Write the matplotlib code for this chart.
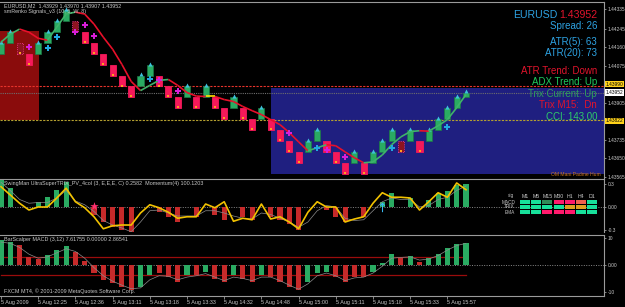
import matplotlib
matplotlib.use("Agg")
import matplotlib.pyplot as plt
import matplotlib.transforms as mtransforms
from matplotlib.collections import LineCollection
from matplotlib.patches import Rectangle

W, H = 625, 307
plt.rcParams["font.family"] = ["Liberation Sans", "DejaVu Sans"]

# ---- data (renko bricks, 5 pips each) ----
brick_open = [1.44130, 1.44180, 1.44180, 1.44130, 1.44130, 1.44180, 1.44230, 1.44280,
              1.44280, 1.44230, 1.44180, 1.44130, 1.44080, 1.44030, 1.43980, 1.43980,
              1.44030, 1.44030, 1.43980, 1.43930, 1.43930, 1.43930, 1.43930, 1.43930,
              1.43880, 1.43880, 1.43880, 1.43830, 1.43830, 1.43830, 1.43780, 1.43730,
              1.43680, 1.43680, 1.43730, 1.43730, 1.43680, 1.43630, 1.43630, 1.43630,
              1.43630, 1.43680, 1.43730, 1.43730, 1.43730, 1.43730, 1.43730, 1.43780,
              1.43830, 1.43880, 1.43930]
brick_close = [1.44180, 1.44230, 1.44130, 1.44080, 1.44180, 1.44230, 1.44280, 1.44330,
               1.44230, 1.44180, 1.44130, 1.44080, 1.44030, 1.43980, 1.43930, 1.44030,
               1.44080, 1.43980, 1.43930, 1.43880, 1.43980, 1.43880, 1.43980, 1.43880,
               1.43830, 1.43930, 1.43830, 1.43780, 1.43880, 1.43780, 1.43730, 1.43680,
               1.43630, 1.43730, 1.43780, 1.43680, 1.43630, 1.43580, 1.43680, 1.43580,
               1.43680, 1.43730, 1.43780, 1.43680, 1.43780, 1.43680, 1.43780, 1.43830,
               1.43880, 1.43930, 1.43952]
dim_bricks = [2, 8, 43]

ma_values = [1.44183, 1.44220, 1.44243, 1.44229, 1.44201, 1.44192, 1.44252, 1.44312,
             1.44321, 1.44312, 1.44266, 1.44206, 1.44151, 1.44081, 1.44003, 1.43961,
             1.43985, 1.44008, 1.44012, 1.43985, 1.43952, 1.43936, 1.43934, 1.43934,
             1.43920, 1.43911, 1.43888, 1.43869, 1.43851, 1.43828, 1.43805, 1.43768,
             1.43726, 1.43685, 1.43699, 1.43713, 1.43708, 1.43680, 1.43653, 1.43630,
             1.43634, 1.43666, 1.43713, 1.43749, 1.43773, 1.43777, 1.43775, 1.43800,
             1.43828, 1.43883, 1.43943]

buy_idx = [5, 6, 16, 34, 42, 48]
buy_price = [1.44155, 1.44206, 1.44012, 1.43699, 1.43699, 1.43796]
sell_idx = [3, 8, 9, 10, 17, 19, 31, 35, 37]
sell_price = [1.44160, 1.44229, 1.44261, 1.44211, 1.44008, 1.43957, 1.43768, 1.43690, 1.43657]

red_zone = (-0.2, 4.1, 1.43828, 1.44235)     # x0, x1, low, high
blue_zone = (29.0, 70.0, 1.43579, 1.43971)
level_red = 1.43982
level_bid = 1.43952
level_olive = 1.43826

price_ticks = [1.44335, 1.44245, 1.44160, 1.44075, 1.43905, 1.43735, 1.43650, 1.43565]
marked_prices = [(1.43990, "1.43990", "#ffd21a"), (1.43952, "1.43952", "#ffffff"),
                 (1.43822, "1.43822", "#ffd21a")]

trix_hist = [0.36, 0.25, 0.0, 0.0, 0.07, 0.13, 0.23, 0.33, 0.0, 0.0, -0.11, -0.20,
             -0.27, -0.30, -0.35, 0.0, 0.0, -0.07, -0.13, -0.20, 0.0, -0.13, 0.0, -0.10,
             -0.17, 0.0, -0.13, -0.17, 0.0, -0.13, -0.17, -0.23, -0.30, 0.0, 0.0, -0.04,
             -0.13, -0.20, 0.0, -0.13, 0.0, 0.07, 0.18, 0.0, 0.12, 0.0, 0.09, 0.18,
             0.21, 0.29, 0.30]
momentum = [0.27, 0.16, 0.05, -0.04, 0.0, 0.0, 0.12, 0.25, 0.07, -0.01, -0.13, -0.29,
            -0.25, -0.24, -0.24, -0.08, 0.03, -0.01, -0.07, -0.15, -0.13, -0.13, 0.04, -0.01,
            0.07, -0.19, -0.15, -0.17, 0.04, -0.16, -0.13, -0.20, -0.29, -0.07, 0.07, 0.0,
            0.0, -0.20, -0.16, -0.13, 0.05, 0.19, 0.13, 0.13, 0.12, -0.04, 0.07, 0.19,
            0.13, 0.32, 0.23]
momentum_sig = [0.33, 0.22, 0.10, 0.05, 0.06, 0.06, 0.12, 0.22, 0.08, 0.03, -0.06, -0.18,
                -0.24, -0.28, -0.33, -0.20, -0.05, -0.04, -0.08, -0.12, -0.12, -0.12, -0.05, -0.05,
                -0.08, -0.12, -0.15, -0.16, -0.08, -0.10, -0.15, -0.20, -0.27, -0.20, -0.05, 0.02,
                0.0, -0.15, -0.18, -0.17, -0.05, 0.07, 0.12, 0.10, 0.10, 0.0, 0.02, 0.10,
                0.13, 0.22, 0.28]
trix_star_idx = 10
trix_arrow_idx = 41

macd_hist = [9.3, 8.5, 7.4, 3.0, 2.2, 3.7, 5.6, 7.0, 4.8, 1.5, -3.0, -5.6,
             -6.7, -8.1, -9.3, -8.1, -3.7, -3.0, -4.4, -6.3, -3.7, -3.7, -2.6, -5.2,
             -6.3, -3.7, -5.2, -6.3, -3.7, -4.4, -6.3, -8.1, -9.3, -6.3, -3.0, -2.6,
             -4.4, -6.3, -4.4, -4.4, -2.6, 0.7, 4.0, 2.6, 3.3, 1.1, 2.6, 4.0,
             6.3, 7.8, 8.1]
macd_up = [1, 1, 0, 0, 0, 1, 1, 1, 0, 0, 0, 0,
           0, 0, 0, 1, 1, 0, 0, 0, 1, 0, 1, 0,
           0, 1, 0, 0, 1, 0, 0, 0, 0, 1, 1, 1,
           0, 0, 0, 0, 1, 1, 1, 0, 1, 0, 1, 1,
           1, 1, 1]
macd_sig = [8.5, 8.0, 6.5, 4.0, 2.5, 3.0, 4.5, 6.0, 5.0, 2.5, -1.0, -4.0,
            -6.0, -7.5, -8.8, -8.5, -5.5, -4.0, -4.2, -5.5, -4.5, -4.0, -3.2, -4.5,
            -5.8, -4.5, -5.0, -5.8, -4.5, -4.5, -5.8, -7.5, -9.0, -7.0, -4.0, -3.0,
            -4.0, -5.8, -4.8, -4.5, -3.0, -0.5, 2.5, 2.8, 3.0, 1.8, 2.2, 3.5,
            5.5, 7.2, 8.0]
macd_levels = [3.0, -3.7]

time_tick_idx = [0, 4, 8, 12, 16, 20, 24, 28, 32, 36, 40, 44, 48]
time_labels = ["5 Aug 2009", "5 Aug 12:25", "5 Aug 12:36", "5 Aug 13:11", "5 Aug 13:18",
               "5 Aug 13:33", "5 Aug 14:32", "5 Aug 14:48", "5 Aug 15:00", "5 Aug 15:11",
               "5 Aug 15:18", "5 Aug 15:33", "5 Aug 15:57"]

info_lines = [("Spread: 26", "#2ea3e3"), ("ATR(5): 63", "#2ea3e3"), ("ATR(20): 73", "#2ea3e3"),
              ("ATR Trend: Down", "#e0142c"), ("ADX Trend: Up", "#1fc85c"),
              ("Trix Current: Up", "#2e9e5c"), ("Trix M15:  Dn", "#e0142c"),
              ("CCI: 143.00", "#2ecc6a")]
info_y = [26, 42, 53, 71, 82, 94, 105, 117]

table_cols = ["M1", "M5", "M15", "M30", "H1", "H4", "D1"]
table_rows = ["MACD", "TRIX", "EMA"]
table_state = [["up", "up", "flat", "dn", "dn", "dn2", "up"],
               ["up", "up", "up", "up", "or", "or", "up"],
               ["up", "up", "dn", "dn", "dn", "up", "up"]]
state_color = {"up": "#17e09a", "flat": "#2e8b57", "dn": "#ff1a6c", "dn2": "#f0604e", "or": "#e0a020"}

GREEN = "#2aab62"
PINK = "#f5195a"
TXT = "#c8c8c8"
SMALL = 3.9
AXIS_FS = 3.5

n = len(brick_open)
idx = list(range(n))
XLIM = (-1 / 9.3, 603 / 9.3)


def px_axes(fig, x0, y0, x1, y1):
    return fig.add_axes([x0 / W, 1 - y1 / H, (x1 - x0) / W, (y1 - y0) / H])


def ptext(fig, x, y, s, **kw):
    kw.setdefault("va", "center")
    fig.text(x / W, 1 - y / H, s, **kw)


def style_panel(ax):
    ax.set_facecolor("black")
    ax.set_xlim(*XLIM)
    for side in ("left", "bottom"):
        ax.spines[side].set_visible(False)
    for side in ("top", "right"):
        ax.spines[side].set_color("#9a9a9a")
        ax.spines[side].set_linewidth(0.8)
    ax.yaxis.tick_right()
    ax.tick_params(axis="y", colors="#9a9a9a", labelcolor=TXT, labelsize=AXIS_FS,
                   length=1.5, width=0.6, pad=1)
    ax.tick_params(axis="x", bottom=False, labelbottom=False)


fig = plt.figure(figsize=(W / 100, H / 100), dpi=100, facecolor="black")

# ---- main price panel ----
ax = px_axes(fig, 0, 2, 604, 178)
style_panel(ax)
ax.set_ylim(1.435603, 1.443673)

ax.add_patch(Rectangle((red_zone[0], red_zone[2]), red_zone[1] - red_zone[0],
                       red_zone[3] - red_zone[2], fc="#8a0c0c", ec="none", zorder=0))
ax.add_patch(Rectangle((blue_zone[0], blue_zone[2]), blue_zone[1] - blue_zone[0],
                       blue_zone[3] - blue_zone[2], fc="#1f1f80", ec="none", zorder=0))
ax.axhline(level_red, color="#e8342c", lw=0.8, ls=(0, (2, 1.2)), zorder=1)
ax.axhline(level_bid, color="#6e6e6e", lw=0.8, ls=(0, (1, 1)), zorder=1)
ax.axhline(level_olive, color="#b4a030", lw=0.8, ls=(0, (2, 1.2)), zorder=1)

for i in idx:
    o, c = brick_open[i], brick_close[i]
    lo, hi = min(o, c), max(o, c)
    if c > o:
        ax.bar(i, hi - lo, bottom=lo, width=0.65, color=GREEN, edgecolor="#1c7a45", lw=0.5, zorder=3)
        ax.scatter(i, hi + 0.00005, marker="^", s=9, color="#3cc2da", lw=0, zorder=4)
    else:
        fc = "#8e1420" if i in dim_bricks else PINK
        ec = "#ff3aa0" if i in dim_bricks else PINK
        ax.bar(i, hi - lo, bottom=lo, width=0.65, color=fc, edgecolor=ec, lw=0.6,
               ls=":" if i in dim_bricks else "-", zorder=3)
        ax.scatter(i, lo + 0.00004, marker="s", s=2.5, color="#ffa020", lw=0, zorder=4)

# moving average coloured by slope
segs, cols = [], []
for i in range(n - 1):
    segs.append([(i, ma_values[i]), (i + 1, ma_values[i + 1])])
    d = ma_values[i + 1] - ma_values[i]
    cols.append("#3fb36a" if d > 0 else ("#ffe000" if d == 0 else "#e8102a"))
ax.add_collection(LineCollection(segs, colors=cols, linewidths=1.2, zorder=5))

ax.scatter(buy_idx, buy_price, marker="P", s=14, color="#22a8e0", lw=0, zorder=6)
ax.scatter(sell_idx, sell_price, marker="P", s=14, color="#d81ed8", lw=0, zorder=6)

ax.set_yticks(price_ticks)
ax.set_yticklabels([f"{p:.5f}" for p in price_ticks])
trans = mtransforms.blended_transform_factory(ax.transAxes, ax.transData)
for p, lab, col in marked_prices:
    ax.text(1.003, p, lab, transform=trans, fontsize=AXIS_FS, color="black", va="center",
            ha="left", bbox=dict(boxstyle="square,pad=0.12", fc=col, ec="none"), zorder=7,
            clip_on=False)

# ---- TRIX / momentum panel ----
ax1 = px_axes(fig, 0, 179, 604, 232)
style_panel(ax1)
ax1.set_ylim(-0.333, 0.373)
ax1.axhline(0, color="#8a8a8a", lw=0.7, ls=(0, (1, 1.5)), zorder=1)
ax1.bar(idx, trix_hist, width=0.55, color=[GREEN if v > 0 else "#c62a2a" for v in trix_hist],
        zorder=2)
ax1.plot(idx, momentum_sig, color="#8c8c8c", lw=0.5, zorder=3)
ax1.plot(idx, momentum, color="#f2c200", lw=1.2, zorder=4)
ax1.scatter(trix_star_idx, 0.02, marker="*", s=40, color="#ff3070", lw=0, zorder=5)
ax1.scatter(trix_arrow_idx, 0.0, marker=r"$\uparrow$", s=45, color="#38b8f0", lw=0, zorder=5)
ax1.set_yticks([0.3, 0.0, -0.3])
ax1.set_yticklabels(["0.3", "0.00", "-0.3"])

# ---- MACD panel ----
ax2 = px_axes(fig, 0, 235, 604, 296)
style_panel(ax2)
ax2.spines["bottom"].set_visible(True)
ax2.spines["bottom"].set_color("#9a9a9a")
ax2.set_ylim(-11.5, 11.1)
ax2.axhline(0, color="#8a8a8a", lw=0.7, ls=(0, (1, 1.5)), zorder=1)
for lv in macd_levels:
    ax2.plot([0, n - 1], [lv, lv], color="#9a0c0c", lw=0.9, zorder=2)
ax2.bar(idx, macd_hist, width=0.55, color=[GREEN if u else "#c62a2a" for u in macd_up], zorder=3)
ax2.plot(idx, macd_sig, color="#8c8c8c", lw=0.5, zorder=4)
ax2.set_yticks([10, 0, -10])
ax2.set_yticklabels(["10", "0.00", "-10"])
ax2.tick_params(axis="x", bottom=True, labelbottom=True, colors="#9a9a9a", labelcolor=TXT,
                labelsize=SMALL, length=2, width=0.6, pad=1)
ax2.set_xticks(time_tick_idx)
ax2.set_xticklabels(time_labels)
for lab in ax2.get_xticklabels():
    lab.set_ha("left")

# ---- texts ----
ptext(fig, 4, 6, "EURUSD,M2  1.43929 1.43970 1.43907 1.43952", color=TXT, fontsize=SMALL)
ptext(fig, 4, 12, "smRenko Signals_v3 (10, 5, W, 8)", color=TXT, fontsize=SMALL)
ptext(fig, 557, 15, "EURUSD", color="#2ea3e3", fontsize=7.6, ha="right")
ptext(fig, 597, 15, "1.43952", color="#e0142c", fontsize=7.6, ha="right")
for (s, col), y in zip(info_lines, info_y):
    ptext(fig, 597, y, s, color=col, fontsize=7, ha="right")
ptext(fig, 601, 174, "OM Mani Padme Hum", color="#d07a20", fontsize=3.6, ha="right")

ptext(fig, 4, 184, "SwingMan UltraSuperTRIX_PV_4col (3, E,E,E, C) 0.2582  Momentum(4) 100.1203",
      color=TXT, fontsize=SMALL)
ptext(fig, 4, 240, "BarScalper MACD (3,12) 7.61755 0.00000 2.86541", color=TXT, fontsize=SMALL)
ptext(fig, 4, 291, "FXCM MT4, \u00a9 2001-2009 MetaQuotes Software Corp.", color=TXT, fontsize=SMALL)

# signal table
col_x = [520 + 11.2 * k for k in range(len(table_cols))]
row_y = [202, 207, 212]
ptext(fig, 514, 196, "sig", color=TXT, fontsize=3.4, ha="right")
for k, name in enumerate(table_cols):
    ptext(fig, col_x[k] + 5, 196, name, color=TXT, fontsize=3.8, ha="center")
for r, name in enumerate(table_rows):
    ptext(fig, 515, row_y[r], name, color=TXT, fontsize=3.4, ha="right")
    for k, st in enumerate(table_state[r]):
        fig.patches.append(Rectangle((col_x[k] / W, 1 - (row_y[r] + 2) / H), 10 / W, 4 / H,
                                     transform=fig.transFigure, fc=state_color[st], ec="none",
                                     zorder=8))

fig.savefig("out.png", dpi=100, facecolor="black")
